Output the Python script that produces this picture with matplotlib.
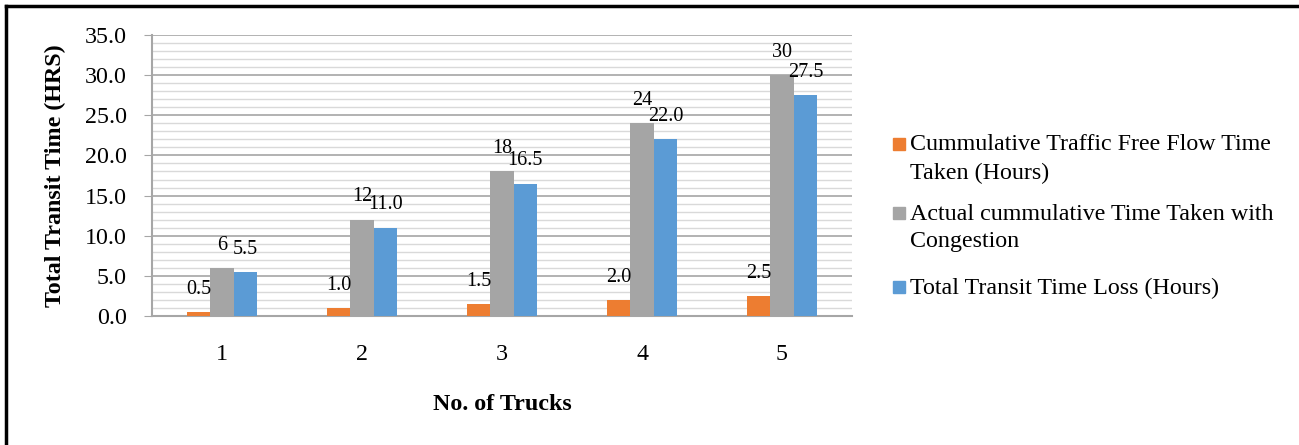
import matplotlib
matplotlib.use("Agg")
import matplotlib.pyplot as plt
from matplotlib.lines import Line2D
from matplotlib.patches import Rectangle
import numpy as np

categories = ["1", "2", "3", "4", "5"]
free_flow = [0.5, 1.0, 1.5, 2.0, 2.5]
actual = [6, 12, 18, 24, 30]
loss = [5.5, 11.0, 16.5, 22.0, 27.5]
series_names = ["Cummulative Traffic Free Flow Time\nTaken (Hours)",
                "Actual cummulative Time Taken with\nCongestion",
                "Total Transit Time Loss (Hours)"]
label_fmt = ["{:.1f}", "{:.0f}", "{:.1f}"]
colors = ["#ED7D31", "#A5A5A5", "#5B9BD5"]

plt.rcParams['font.family'] = ['Liberation Serif', 'DejaVu Serif']

W, H = 1299, 445
fig = plt.figure(figsize=(W / 100, H / 100), dpi=100)
left, right, top, bottom = 152, 852, 35, 316
ax = fig.add_axes([left / W, 1 - bottom / H, (right - left) / W, (bottom - top) / H])

x = np.arange(1, len(categories) + 1)
bw = 1 / 6
data = [free_flow, actual, loss]
for i, (vals, c, name, fmt) in enumerate(zip(data, colors, series_names, label_fmt)):
    xs = x + (i - 1) * bw
    ax.bar(xs, vals, width=bw, color=c, label=name, zorder=3)
    for xi, v in zip(xs, vals):
        ax.annotate(fmt.format(v), (xi, v), xytext=(0, 9.5), textcoords="offset points",
                    ha="center", va="bottom", fontsize=14.5, color="black", zorder=4)

ax.set_xlim(0.5, 5.5)
ax.set_ylim(0, 35)
ax.set_yticks(np.arange(0, 35.1, 5))
ax.set_yticklabels([f"{v:.1f}" for v in np.arange(0, 35.1, 5)])
ax.set_yticks(np.arange(0, 35.1, 1), minor=True)
ax.set_xticks(x)
ax.set_xticklabels(categories)
ax.grid(axis="y", which="major", color="#A6A6A6", linewidth=1.2, zorder=0)
ax.grid(axis="y", which="minor", color="#D9D9D9", linewidth=1.0, zorder=0)
ax.set_axisbelow(True)
for s in ["top", "right"]:
    ax.spines[s].set_visible(False)
ax.spines["left"].set_color("#A6A6A6")
ax.spines["bottom"].set_color("#A6A6A6")
ax.spines["left"].set_linewidth(1.5)
ax.spines["bottom"].set_linewidth(1.5)
ax.tick_params(axis="y", which="major", length=6, color="#A6A6A6", labelsize=17.3, pad=12)
ax.tick_params(axis="y", which="minor", length=0)
ax.tick_params(axis="x", length=0, labelsize=17.3, pad=20)
ax.set_ylabel("Total Transit Time (HRS)", fontsize=17.3, fontweight="bold", labelpad=14)
ax.set_xlabel("No. of Trucks", fontsize=17.3, fontweight="bold", labelpad=21)

# legend (Excel style: marker aligned with first line of each entry)
marker_y = [144, 213, 287]
line_h = 28
for name, c, my in zip(series_names, colors, marker_y):
    fig.add_artist(Rectangle((893 / W, 1 - (my + 6) / H), 12 / W, 12 / H,
                             color=c, transform=fig.transFigure))
    for k, line in enumerate(name.split("\n")):
        fig.text(910 / W, 1 - (my + 1 + k * line_h) / H, line, fontsize=17.3,
                 ha="left", va="center")

# figure border (top and left edges)
fig.add_artist(Line2D([6 / W, 1], [1 - 6 / H, 1 - 6 / H], color="black", linewidth=2.5,
                      transform=fig.transFigure))
fig.add_artist(Line2D([6 / W, 6 / W], [0, 1 - 6 / H], color="black", linewidth=2.5,
                      transform=fig.transFigure))

fig.savefig("out.png", dpi=100)
